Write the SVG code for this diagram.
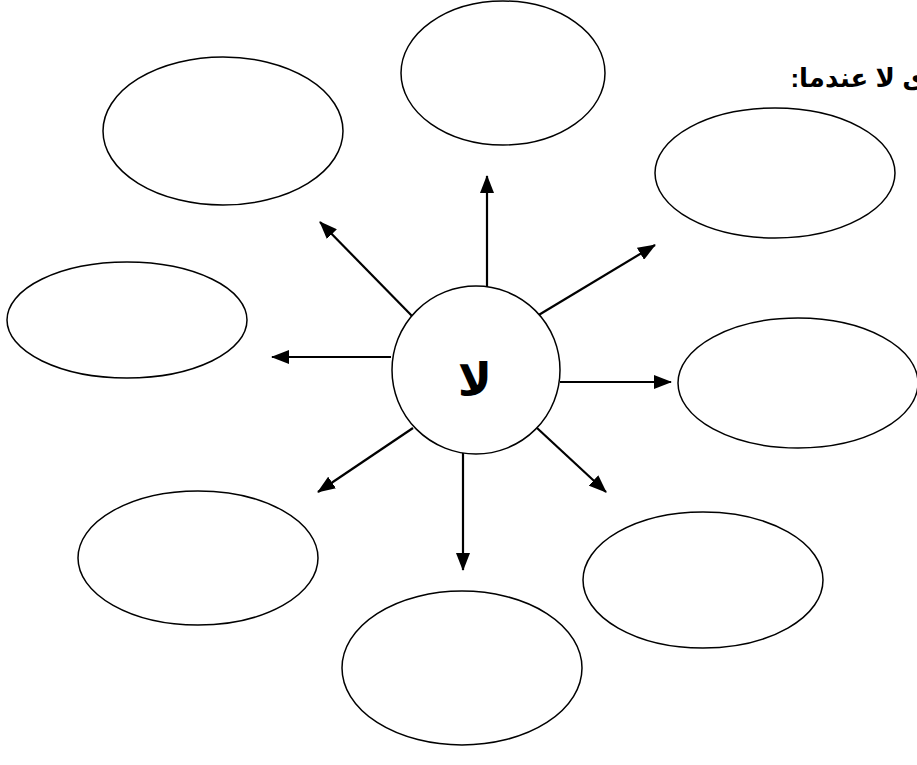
<svg xmlns="http://www.w3.org/2000/svg" width="917" height="765" viewBox="0 0 917 765">
<style>
.n{fill:#fff;stroke:#000;stroke-width:1.5}
.c{stroke:#000;stroke-width:2.2;fill:none;marker-end:url(#ah)}
.t{font-family:"Liberation Sans","DejaVu Sans",Arial,sans-serif;font-weight:bold;fill:#000}
</style>
<defs>
<marker id="ah" markerUnits="userSpaceOnUse" markerWidth="18" markerHeight="14" viewBox="0 0 18 14" refX="17" refY="7" orient="auto">
<path d="M0,0 L18,7 L0,14 z" fill="#000"/>
</marker>
</defs>
<rect width="917" height="765" fill="#fff"/>
<text class="t" x="926" y="87" font-size="26" direction="rtl" text-anchor="start">ى لا عندما:</text>
<g id="connectors">
<line class="c" x1="487" y1="297" x2="487" y2="176"/>
<line class="c" x1="413" y1="317" x2="320" y2="222"/>
<line class="c" x1="537" y1="316" x2="655" y2="245"/>
<line class="c" x1="391" y1="357" x2="272" y2="357"/>
<line class="c" x1="560" y1="382" x2="671" y2="382"/>
<line class="c" x1="413" y1="428" x2="318" y2="492"/>
<line class="c" x1="463" y1="450" x2="463" y2="570"/>
<line class="c" x1="537" y1="428" x2="606" y2="492"/>
</g>
<g id="center"><circle class="n" cx="476" cy="370" r="84"/><text class="t" x="475" y="396" font-size="46" text-anchor="middle">لا</text></g>
<g id="e-top"><ellipse class="n" cx="503" cy="73" rx="102" ry="72"/></g>
<g id="e-topleft"><ellipse class="n" cx="223" cy="131" rx="120" ry="74"/></g>
<g id="e-topright"><ellipse class="n" cx="775" cy="173" rx="120" ry="65"/></g>
<g id="e-left"><ellipse class="n" cx="127" cy="320" rx="120" ry="58"/></g>
<g id="e-right"><ellipse class="n" cx="798" cy="383" rx="120" ry="65"/></g>
<g id="e-bottomleft"><ellipse class="n" cx="198" cy="558" rx="120" ry="67"/></g>
<g id="e-bottomright"><ellipse class="n" cx="703" cy="580" rx="120" ry="68"/></g>
<g id="e-bottom"><ellipse class="n" cx="462" cy="668" rx="120" ry="77"/></g>
</svg>
